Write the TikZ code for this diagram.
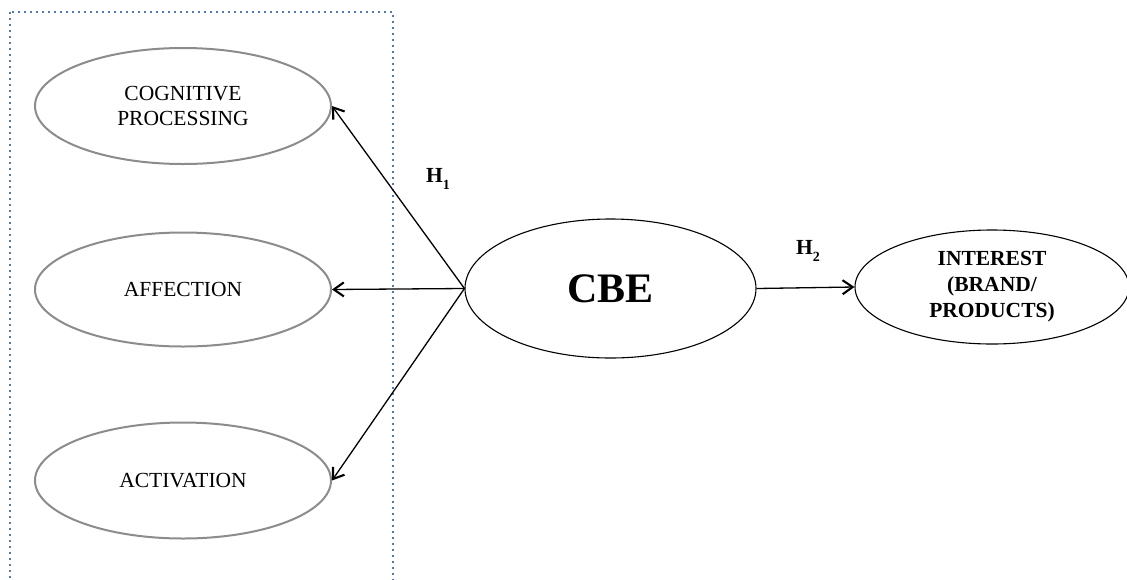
\documentclass[tikz,border=0pt]{standalone}
\usepackage{fontspec}
\setmainfont{Liberation Serif}
\usetikzlibrary{shapes.geometric,arrows.meta}
\definecolor{boxblue}{RGB}{84,120,180}
\definecolor{ellgray}{RGB}{140,140,140}
\begin{document}
\begin{tikzpicture}[x=1pt,y=-1pt,
  dimell/.style={ellipse,draw=ellgray,line width=2pt,inner sep=0pt,align=center,
    font=\fontsize{21.5}{24.5}\selectfont},
  mainell/.style={ellipse,draw=black,line width=1.1pt,inner sep=0pt,align=center},
  conn/.style={line width=1.3pt,-{Straight Barb[length=10pt,width=14pt,line width=2.1pt]}},
  hyp/.style={font=\fontsize{21.5}{21.5}\selectfont\bfseries,inner sep=0pt}
]
\useasboundingbox (0,0) rectangle (1127,579);
\fill[white] (0,0) rectangle (1127,579);
\draw[boxblue,line width=1.6pt,dash pattern=on 1.6pt off 4.4pt] (10,12) rectangle (393,600);

\node[dimell,minimum width=296pt,minimum height=116pt] (cog) at (183,106) {COGNITIVE\\PROCESSING};
\node[dimell,minimum width=296pt,minimum height=114pt] (aff) at (183,289.5) {AFFECTION};
\node[dimell,minimum width=296pt,minimum height=116pt] (act) at (183,480.5) {ACTIVATION};

\node[mainell,minimum width=291pt,minimum height=139pt,font=\fontsize{42}{42}\selectfont\bfseries] (cbe) at (610.5,288.5) {CBE};
\node[mainell,minimum width=274pt,minimum height=114pt,font=\fontsize{21.5}{26}\selectfont\bfseries] (int) at (992,287) {INTEREST\\(BRAND/\\PRODUCTS)};

\draw[conn] (cbe.west) -- (cog.east);
\draw[conn] (cbe.west) -- (aff.east);
\draw[conn] (cbe.west) -- (act.east);
\draw[conn] (cbe.east) -- (int.west);

\node[hyp,anchor=base west] (h1) at (426,182.5) {H\raisebox{-6.5pt}{\fontsize{14}{14}\selectfont 1}};
\node[hyp,anchor=base west] (h2) at (796,254.5) {H\raisebox{-6.5pt}{\fontsize{14}{14}\selectfont 2}};
\end{tikzpicture}
\end{document}
